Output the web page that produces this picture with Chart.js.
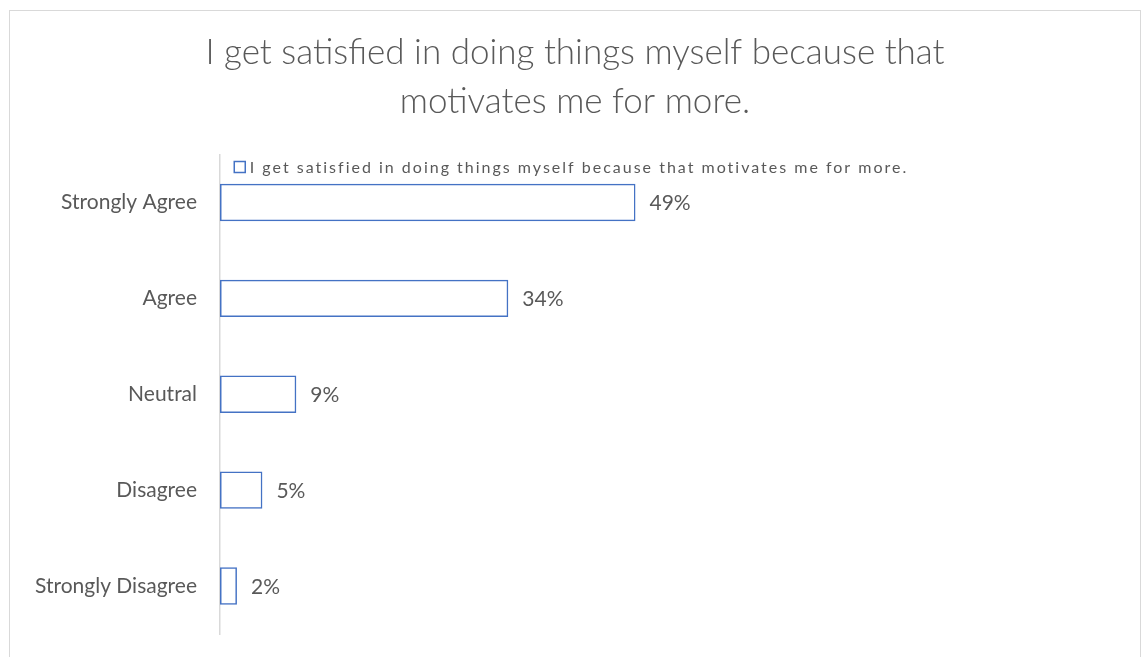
<!DOCTYPE html>
<html>
<head>
  <title>I get satisfied in doing things myself</title>
  <meta charset="utf-8" />
  <script src="https://cdn.jsdelivr.net/npm/chart.js"></script>
  <style>
    body { margin: 0; background: #fff; }
    #box { position: absolute; left: 9px; top: 10px; width: 1130px; height: 660px; border: 1px solid #d9d9d9; }
    canvas { display: block; }
  </style>
</head>
<body>
  <div id="box"><canvas id="barChart" width="1130" height="660"></canvas></div>
  <script>
    const categories = ['Strongly Agree', 'Agree', 'Neutral', 'Disagree', 'Strongly Disagree'];
    const shares = [0.49, 0.34, 0.09, 0.05, 0.02];
    const seriesName = 'I get satisfied in doing things myself because that motivates me for more.';
    const titleLines = ['I get satisfied in doing things myself because that', 'motivates me for more.'];

    const grey = '#595959';
    const blue = '#4472C4';

    // percent labels at the end of each bar
    const barLabels = {
      id: 'barLabels',
      afterDatasetsDraw(chart) {
        const ctx = chart.ctx;
        const meta = chart.getDatasetMeta(0);
        ctx.save();
        ctx.font = '21px Lato';
        ctx.fillStyle = grey;
        ctx.textBaseline = 'middle';
        meta.data.forEach((bar, i) => {
          ctx.fillText(Math.round(shares[i] * 100) + '%', bar.x + 14, bar.y + 1);
        });
        ctx.restore();
      }
    };

    // excel-style legend sitting just under the title, over the plot top
    const topLegend = {
      id: 'topLegend',
      afterDraw(chart) {
        const ctx = chart.ctx;
        const ds = chart.data.datasets[0];
        ctx.save();
        ctx.font = '16px Lato';
        ctx.letterSpacing = '2px';
        const w = ctx.measureText(ds.label).width;
        const total = 12 + 4 + w;
        const x0 = chart.width / 2 - total / 2 - 4;
        const yc = chart.chartArea.top + 13;
        ctx.strokeStyle = ds.borderColor;
        ctx.lineWidth = 1.5;
        ctx.strokeRect(x0 + 0.5, yc - 6, 11, 11);
        ctx.fillStyle = grey;
        ctx.textBaseline = 'middle';
        ctx.fillText(ds.label, x0 + 16, yc);
        ctx.restore();
      }
    };

    new Chart(document.getElementById('barChart'), {
      type: 'bar',
      data: {
        labels: categories,
        datasets: [{
          label: seriesName,
          data: shares,
          backgroundColor: 'rgba(0,0,0,0)',
          borderColor: blue,
          borderWidth: 1.5,
          borderSkipped: false,
          barPercentage: 0.39,
          categoryPercentage: 1
        }]
      },
      options: {
        indexAxis: 'y',
        responsive: false,
        animation: false,
        layout: { padding: { left: 0, right: 0, top: 0, bottom: 37 } },
        plugins: {
          title: {
            display: true,
            text: titleLines,
            color: grey,
            font: { family: 'Lato', size: 35, weight: 300, lineHeight: 1.4 },
            padding: { top: 17.5, bottom: 28 }
          },
          legend: { display: false },
          tooltip: { enabled: false }
        },
        scales: {
          x: { display: false, min: 0, max: 1.085 },
          y: {
            afterFit: s => { s.width = 210; },
            grid: { display: false, drawTicks: false, tickLength: 0 },
            border: { display: true, color: '#d9d9d9', width: 1.5 },
            ticks: { color: grey, padding: 23, font: { family: 'Lato', size: 21 } }
          }
        }
      },
      plugins: [barLabels, topLegend]
    });
  </script>
</body>
</html>
